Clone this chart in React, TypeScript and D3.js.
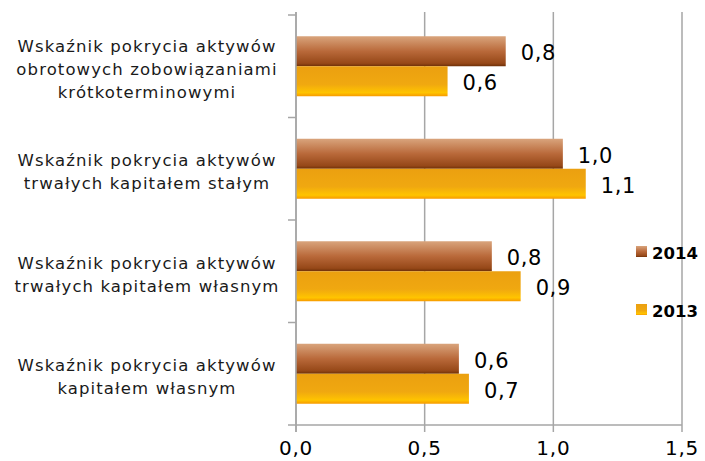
import React from "react";
import * as d3 from "d3";

// categories top to bottom, each label split into lines
const categories = [
  ["Wskaźnik pokrycia aktywów", "obrotowych zobowiązaniami", "krótkoterminowymi"],
  ["Wskaźnik pokrycia aktywów", "trwałych kapitałem stałym"],
  ["Wskaźnik pokrycia aktywów", "trwałych kapitałem własnym"],
  ["Wskaźnik pokrycia aktywów", "kapitałem własnym"],
];
const values2014 = [0.815, 1.037, 0.761, 0.633];
const values2013 = [0.589, 1.126, 0.873, 0.672];
const xTicks = [0, 0.5, 1.0, 1.5];
const seriesNames = ["2014", "2013"];

const W = 705;
const H = 461;
const fmt = (v: number) => d3.format(".1f")(v).replace(".", ",");

export default function App() {
  const x = d3.scaleLinear().domain([0, 1.5]).range([296, 682]);
  const y = d3.scaleBand<number>().domain(d3.range(categories.length)).range([15, 425]);
  const barH = 30;
  const font = "'DejaVu Sans', Verdana, sans-serif";
  const series = [
    { name: seriesNames[0], values: values2014, fill: "url(#g2014)", off: -barH },
    { name: seriesNames[1], values: values2013, fill: "url(#g2013)", off: 0 },
  ];

  return (
    <svg width={W} height={H} style={{ position: "absolute", left: 0, top: 0 }}>
      <defs>
        <linearGradient id="g2014" x1="0" y1="0" x2="0" y2="1">
          <stop offset="0" stopColor="#d9a47c" />
          <stop offset="0.5" stopColor="#b9693a" />
          <stop offset="0.9" stopColor="#964818" />
          <stop offset="1" stopColor="#6e3008" />
        </linearGradient>
        <linearGradient id="g2013" x1="0" y1="0" x2="0" y2="1">
          <stop offset="0" stopColor="#eba010" />
          <stop offset="0.6" stopColor="#f0a810" />
          <stop offset="0.88" stopColor="#ffc400" />
          <stop offset="1" stopColor="#f79a00" />
        </linearGradient>
      </defs>
      <rect width={W} height={H} fill="#fff" />

      {/* gridlines */}
      {xTicks.map((t) => (
        <line key={t} x1={x(t)} x2={x(t)} y1={12} y2={432} stroke="#a6a6a6" strokeWidth={1.5} />
      ))}
      {/* axes */}
      <line x1={x(0)} x2={x(1.5)} y1={425} y2={425} stroke="#a6a6a6" strokeWidth={1.5} />
      {d3.range(categories.length + 1).map((i) => {
        const yy = i < categories.length ? y(i)! : 425;
        return <line key={i} x1={288} x2={296} y1={yy} y2={yy} stroke="#a6a6a6" strokeWidth={1.5} />;
      })}

      {/* bars */}
      {series.map((s) =>
        s.values.map((v, i) => {
          const cy = y(i)! + y.bandwidth() / 2;
          return (
            <g key={s.name + i}>
              <rect x={x(0)} y={cy + s.off} width={x(v) - x(0)} height={barH} fill={s.fill} />
              <text
                x={x(v) + 15}
                y={cy + s.off + barH / 2 + 9}
                fontFamily={font}
                fontSize={21}
                letterSpacing={0.6}
                fill="#000"
              >
                {fmt(v)}
              </text>
            </g>
          );
        })
      )}
      {/* redraw y axis line over bars */}
      <line x1={x(0)} x2={x(0)} y1={12} y2={432} stroke="#a6a6a6" strokeWidth={1.5} />

      {/* category labels */}
      {categories.map((lines, i) => {
        const cy = y(i)! + y.bandwidth() / 2 + 4;
        const lh = 23;
        const y0 = cy - ((lines.length - 1) * lh) / 2;
        return (
          <text key={i} textAnchor="middle" fontFamily={font} fontSize={16.5} letterSpacing={1.1} fill="#1a1a1a">
            {lines.map((l, j) => (
              <tspan key={j} x={147} y={y0 + j * lh + 5}>
                {l}
              </tspan>
            ))}
          </text>
        );
      })}

      {/* x tick labels */}
      {xTicks.map((t) => (
        <text key={t} x={x(t)} y={455} textAnchor="middle" fontFamily={font} fontSize={20} letterSpacing={0.8} fill="#000">
          {fmt(t)}
        </text>
      ))}

      {/* legend */}
      {series.map((s, i) => (
        <g key={s.name} transform={`translate(636, ${246 + i * 58})`}>
          <rect width={11} height={11} fill={s.fill} />
          <text x={16} y={12.5} fontFamily={font} fontSize={16.5} fontWeight="bold" fill="#000">
            {s.name}
          </text>
        </g>
      ))}
    </svg>
  );
}
